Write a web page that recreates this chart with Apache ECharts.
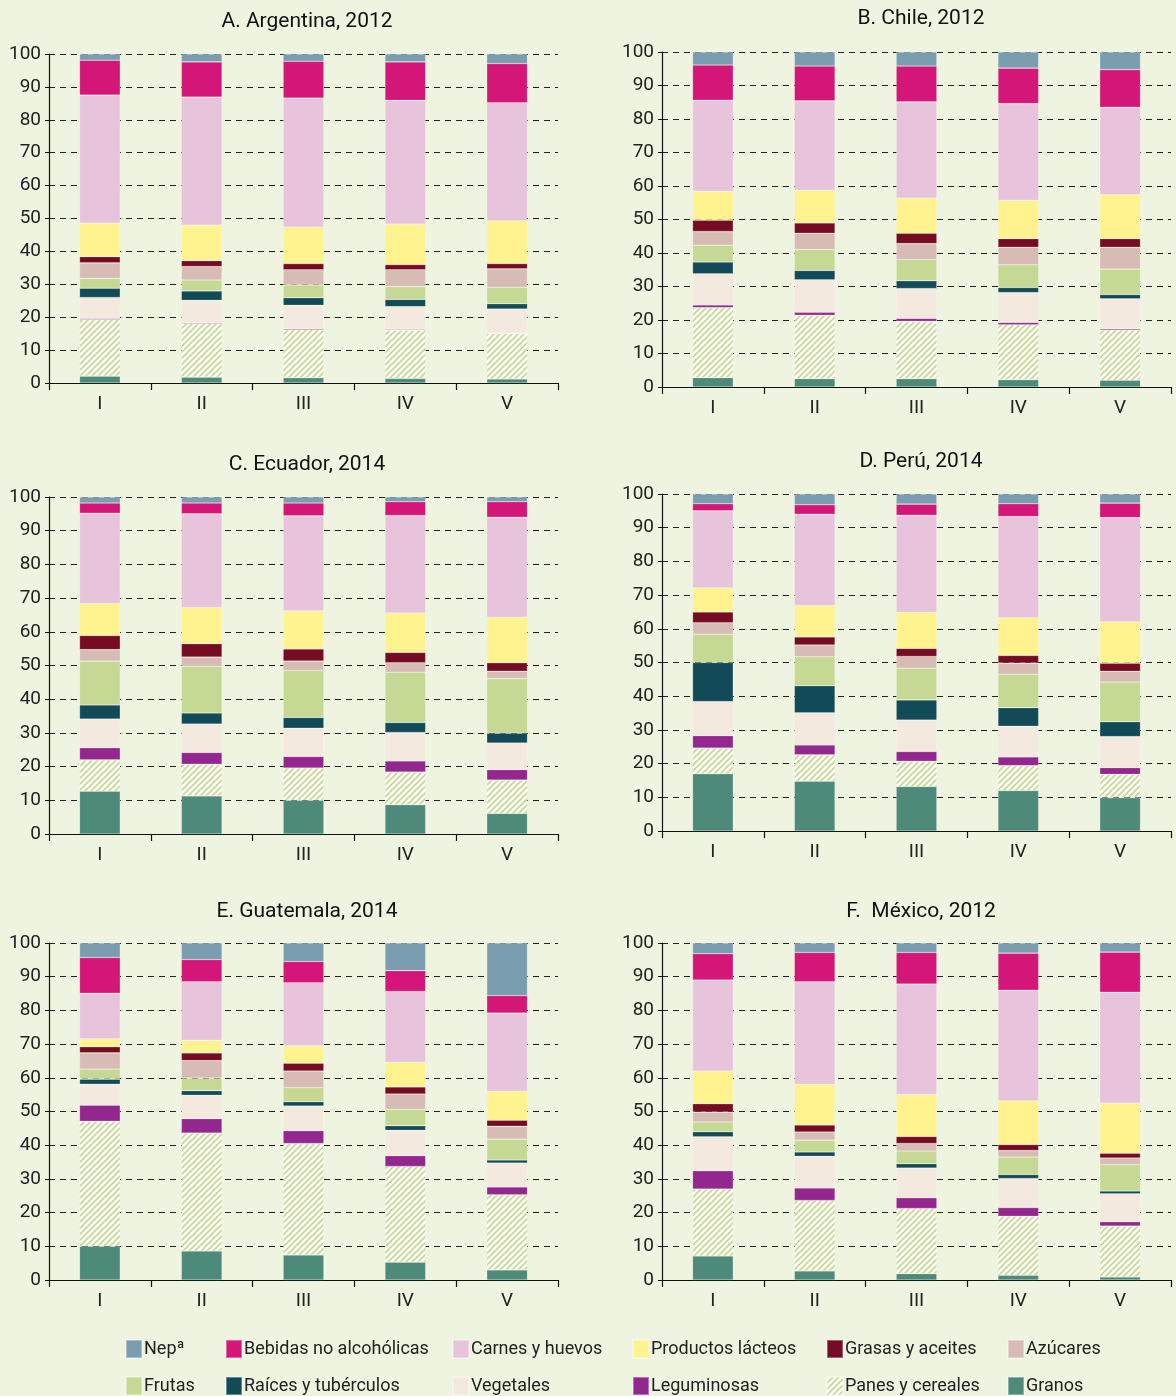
<!DOCTYPE html>
<html>
<head>
<meta charset="utf-8">
<style>
html,body{margin:0;padding:0;background:#eff4e0;}
#c{width:1176px;height:1396px;}
</style>
<script src="https://cdn.jsdelivr.net/npm/echarts@6/dist/echarts.min.js"></script>
</head>
<body>
<div id="c"></div>
<script>
// Categories (quintiles)
const categories = ['I', 'II', 'III', 'IV', 'V'];
const yTicks = [0, 10, 20, 30, 40, 50, 60, 70, 80, 90, 100];

// Series names, stacked bottom to top
const seriesNames = ['Granos', 'Panes y cereales', 'Leguminosas', 'Vegetales', 'Raíces y tubérculos',
  'Frutas', 'Azúcares', 'Grasas y aceites', 'Productos lácteos', 'Carnes y huevos',
  'Bebidas no alcohólicas', 'Nepª'];

const panelTitles = ['A. Argentina, 2012', 'B. Chile, 2012', 'C. Ecuador, 2014',
  'D. Perú, 2014', 'E. Guatemala, 2014', 'F.  México, 2012'];

// One row per series (same order as seriesNames), one value per quintile I..V
const argentina = [
  [2.1, 1.8, 1.6, 1.4, 1.2],
  [17.2, 16.3, 14.6, 14.6, 13.8],
  [0.3, 0.2, 0.3, 0.3, 0.2],
  [6.4, 6.8, 7.1, 6.9, 7.3],
  [2.8, 2.9, 2.3, 2.2, 1.6],
  [3.0, 3.3, 3.9, 3.9, 5.0],
  [4.7, 4.1, 4.6, 5.1, 5.6],
  [1.9, 1.8, 1.9, 1.6, 1.6],
  [10.2, 10.8, 11.1, 12.3, 13.0],
  [38.9, 38.9, 39.2, 37.6, 35.9],
  [10.6, 10.7, 11.2, 11.7, 11.9],
  [1.9, 2.4, 2.2, 2.4, 2.9]
];
const chile = [
  [2.8, 2.5, 2.5, 2.2, 2.0],
  [20.9, 18.9, 17.1, 16.4, 15.0],
  [0.8, 0.9, 0.9, 0.7, 0.4],
  [9.3, 9.7, 8.9, 8.9, 8.9],
  [3.5, 2.8, 2.3, 1.5, 1.3],
  [5.0, 6.2, 6.3, 6.8, 7.6],
  [4.1, 4.9, 4.8, 5.2, 6.5],
  [3.4, 3.1, 3.1, 2.6, 2.6],
  [8.6, 9.7, 10.5, 11.4, 13.1],
  [27.2, 26.7, 28.7, 28.9, 26.1],
  [10.5, 10.4, 10.7, 10.6, 11.2],
  [3.9, 4.2, 4.2, 4.8, 5.3]
];
const ecuador = [
  [12.7, 11.3, 10.0, 8.7, 6.1],
  [9.3, 9.4, 9.6, 9.7, 9.9],
  [3.6, 3.5, 3.4, 3.3, 3.1],
  [8.5, 8.4, 8.4, 8.4, 7.9],
  [4.2, 3.3, 3.2, 3.0, 2.9],
  [13.0, 13.8, 13.9, 14.9, 16.2],
  [3.4, 2.8, 2.8, 2.8, 2.2],
  [4.2, 4.0, 3.6, 3.1, 2.5],
  [9.5, 10.7, 11.3, 11.7, 13.5],
  [26.8, 27.8, 28.2, 28.9, 29.7],
  [3.0, 3.2, 3.8, 4.1, 4.6],
  [1.8, 1.8, 1.8, 1.4, 1.4]
];
const peru = [
  [17.0, 14.8, 13.2, 12.0, 9.9],
  [7.6, 7.8, 7.5, 7.4, 6.9],
  [3.7, 2.9, 2.9, 2.6, 2.0],
  [10.1, 9.6, 9.3, 9.1, 9.2],
  [11.6, 8.0, 6.0, 5.5, 4.4],
  [8.4, 8.6, 9.4, 9.9, 11.8],
  [3.4, 3.5, 3.5, 3.3, 3.2],
  [3.2, 2.4, 2.4, 2.3, 2.4],
  [7.2, 9.3, 10.7, 11.2, 12.3],
  [22.8, 27.1, 28.8, 30.0, 30.9],
  [2.1, 2.8, 3.3, 3.8, 4.3],
  [2.9, 3.2, 3.0, 2.9, 2.7]
];
const guatemala = [
  [10.0, 8.6, 7.4, 5.3, 3.0],
  [37.1, 35.0, 33.1, 28.4, 22.3],
  [4.8, 4.3, 3.8, 3.2, 2.3],
  [6.2, 6.9, 7.3, 7.5, 7.1],
  [1.5, 1.4, 1.3, 1.4, 0.9],
  [3.0, 3.7, 4.2, 4.8, 6.2],
  [4.8, 5.2, 4.9, 4.6, 3.8],
  [1.8, 2.3, 2.3, 2.1, 1.8],
  [2.4, 3.7, 5.2, 7.3, 8.6],
  [13.5, 17.4, 18.7, 21.0, 23.2],
  [10.6, 6.6, 6.3, 6.2, 5.2],
  [4.3, 4.9, 5.5, 8.2, 15.6]
];
const mexico = [
  [7.1, 2.7, 1.9, 1.4, 0.9],
  [19.9, 20.9, 19.3, 17.5, 15.1],
  [5.4, 3.7, 3.2, 2.6, 1.3],
  [10.1, 9.4, 8.8, 8.6, 8.3],
  [1.5, 1.3, 1.3, 1.2, 0.8],
  [2.9, 3.5, 3.8, 5.2, 7.8],
  [2.9, 2.4, 2.2, 1.9, 2.0],
  [2.5, 2.1, 2.1, 1.8, 1.4],
  [9.7, 12.1, 12.4, 13.0, 14.9],
  [27.0, 30.4, 32.8, 32.8, 32.9],
  [7.8, 8.7, 9.4, 11.0, 11.9],
  [3.2, 2.8, 2.8, 3.0, 2.7]
];
const panelData = [argentina, chile, ecuador, peru, guatemala, mexico];

// Hatch pattern for "Panes y cereales"
function hatch() {
  const s = 6;
  const cv = document.createElement('canvas');
  cv.width = s; cv.height = s;
  const g = cv.getContext('2d');
  g.fillStyle = '#ffffff';
  g.fillRect(0, 0, s, s);
  g.strokeStyle = '#c2d88c';
  g.lineWidth = 1.6;
  g.beginPath();
  g.moveTo(0, s); g.lineTo(s, 0);
  g.moveTo(-1, 1); g.lineTo(1, -1);
  g.moveTo(s - 1, s + 1); g.lineTo(s + 1, s - 1);
  g.stroke();
  return { image: cv, repeat: 'repeat' };
}
const colors = ['#4e8a79', hatch(), '#93278f', '#f4e9de', '#134a58', '#c5d994',
  '#d7bcb6', '#760c23', '#fef38e', '#e8c3dc', '#d31677', '#7a9db0'];

const FONT = 'Roboto, "Liberation Sans", sans-serif';

const grids = [
  { left: 49, width: 509, top: 54, height: 329 },
  { left: 662, width: 509, top: 52, height: 335 },
  { left: 49, width: 509, top: 497, height: 337 },
  { left: 662, width: 509, top: 494, height: 337 },
  { left: 49, width: 509, top: 943, height: 337 },
  { left: 662, width: 509, top: 943, height: 337 }
];
const titlePos = [
  { x: 302, y: 6 }, { x: 916, y: 3 }, { x: 302, y: 449 },
  { x: 916, y: 446 }, { x: 302, y: 896 }, { x: 916, y: 896 }
];

const option = {
  backgroundColor: '#eff4e0',
  animation: false,
  textStyle: { fontFamily: FONT },
  title: [],
  grid: [],
  xAxis: [],
  yAxis: [],
  series: [],
  legend: []
};

panelTitles.forEach((t, p) => {
  option.title.push({
    text: t, left: titlePos[p].x, top: titlePos[p].y, textAlign: 'center',
    textStyle: { fontFamily: FONT, fontSize: 21, fontWeight: 'normal', color: '#111' }
  });
  option.grid.push(grids[p]);
  option.xAxis.push({
    type: 'category', gridIndex: p, data: categories,
    axisLine: { lineStyle: { color: '#111', width: 1.2 } },
    axisTick: { show: true, alignWithLabel: false, length: 7, lineStyle: { color: '#111', width: 1.2 } },
    axisLabel: { fontFamily: FONT, fontSize: 19, color: '#222', margin: 12 },
    splitLine: { show: false }
  });
  option.yAxis.push({
    type: 'value', gridIndex: p, min: 0, max: 100, interval: 10,
    axisLine: { show: true, lineStyle: { color: '#111', width: 1.2 } },
    axisTick: { show: true, length: 4, lineStyle: { color: '#111' } },
    axisLabel: { fontFamily: FONT, fontSize: 19, color: '#222', margin: 8 },
    splitLine: { show: true, lineStyle: { color: '#222', type: [6, 5], width: 1 } }
  });
  seriesNames.forEach((name, s) => {
    option.series.push({
      name: name, type: 'bar', stack: 'p' + p, xAxisIndex: p, yAxisIndex: p,
      barWidth: '40%',
      data: panelData[p][s],
      itemStyle: { color: colors[s], borderColor: 'rgba(255,255,255,0.35)', borderWidth: 0.6 },
      emphasis: { disabled: true }
    });
  });
});

// Legend: two rows of six, reading order as in the reference
const legendOrder = ['Nepª', 'Bebidas no alcohólicas', 'Carnes y huevos', 'Productos lácteos',
  'Grasas y aceites', 'Azúcares', 'Frutas', 'Raíces y tubérculos', 'Vegetales', 'Leguminosas',
  'Panes y cereales', 'Granos'];
const legendX = [125, 225, 452, 632, 826, 1007];
const legendY = [1339, 1376];
legendOrder.forEach((name, i) => {
  option.legend.push({
    data: [name], left: legendX[i % 6], top: legendY[Math.floor(i / 6)],
    itemWidth: 16, itemHeight: 18, itemGap: 0, padding: 0,
    icon: 'rect', selectedMode: false,
    textStyle: { fontFamily: FONT, fontSize: 18, color: '#222', padding: [0, 0, 0, -3] }
  });
});

const chart = echarts.init(document.getElementById('c'), null, { renderer: 'canvas' });
chart.setOption(option);
</script>
</body>
</html>
